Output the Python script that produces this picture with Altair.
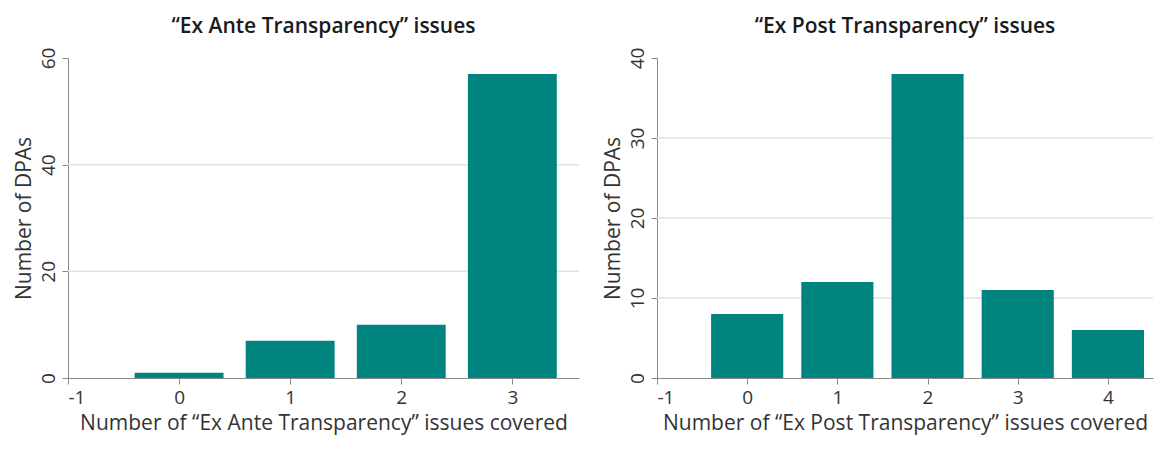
import altair as alt
import pandas as pd

# ---- data ----
ante_x = [0, 1, 2, 3]
ante_n = [1, 7, 10, 57]
ante_yticks = [0, 20, 40, 60]
ante_xticks = [-1, 0, 1, 2, 3]
ante_grid = [20, 40]

post_x = [0, 1, 2, 3, 4]
post_n = [8, 12, 38, 11, 6]
post_yticks = [0, 10, 20, 30, 40]
post_xticks = [-1, 0, 1, 2, 3, 4]
post_grid = [10, 20, 30]

TEAL = "#00847F"
GRID = "#e2e2e2"
AXIS = "#8a8a8a"
FONT = "Open Sans"


def panel(xs, ns, grid, ymax, yticks, xmax, xticks, title, xtitle, width):
    df = pd.DataFrame({"x": xs, "n": ns})
    xscale = alt.Scale(domain=[-1, xmax], nice=False, zero=False)
    yscale = alt.Scale(domain=[0, ymax], nice=False)
    yaxis = alt.Axis(values=yticks, title="Number of DPAs",
                     labelExpr="toString(datum.value)",
                     labelAngle=-90, labelAlign="center",
                     labelBaseline="bottom")
    gr = alt.Chart(pd.DataFrame({"g": grid})).mark_rule(
        color=GRID, strokeWidth=1.5
    ).encode(y=alt.Y("g:Q", scale=yscale, axis=yaxis, title="Number of DPAs"))
    bars = alt.Chart(df).transform_calculate(
        x0="datum.x - 0.4", x1="datum.x + 0.4"
    ).mark_bar(color=TEAL).encode(
        x=alt.X("x0:Q", scale=xscale,
                axis=alt.Axis(values=xticks, title=xtitle,
                              labelExpr="toString(datum.value)")),
        x2="x1:Q",
        y=alt.Y("n:Q", scale=yscale, axis=yaxis, title="Number of DPAs"),
        y2=alt.datum(0),
    )
    return alt.layer(gr, bars).properties(
        width=width, height=320,
        title=alt.TitleParams(title, fontSize=21, fontWeight=600, font=FONT,
                              color="#1a1a1a", offset=10, anchor="middle"),
    )


left = panel(ante_x, ante_n, ante_grid, 60, ante_yticks, 3.6, ante_xticks,
             "\u201cEx Ante Transparency\u201d issues",
             "Number of \u201cEx Ante Transparency\u201d issues covered", 511)
right = panel(post_x, post_n, post_grid, 40, post_yticks, 4.5, post_xticks,
              "\u201cEx Post Transparency\u201d issues",
              "Number of \u201cEx Post Transparency\u201d issues covered", 496)

chart = alt.hconcat(left, right, spacing=22).properties(
    padding={"left": 5, "top": 8, "right": 0, "bottom": 4}
).configure_view(stroke=None).configure_axis(
    grid=False, domainColor=AXIS, tickColor=AXIS, tickSize=6,
    labelFont=FONT, labelFontSize=19, labelColor="#333333", labelPadding=4,
    titleFont=FONT, titleFontSize=21, titleFontWeight="normal",
    titleColor="#333333", titlePadding=5,
)

chart.save("out.html", embed_options={"renderer": "svg", "actions": False})
